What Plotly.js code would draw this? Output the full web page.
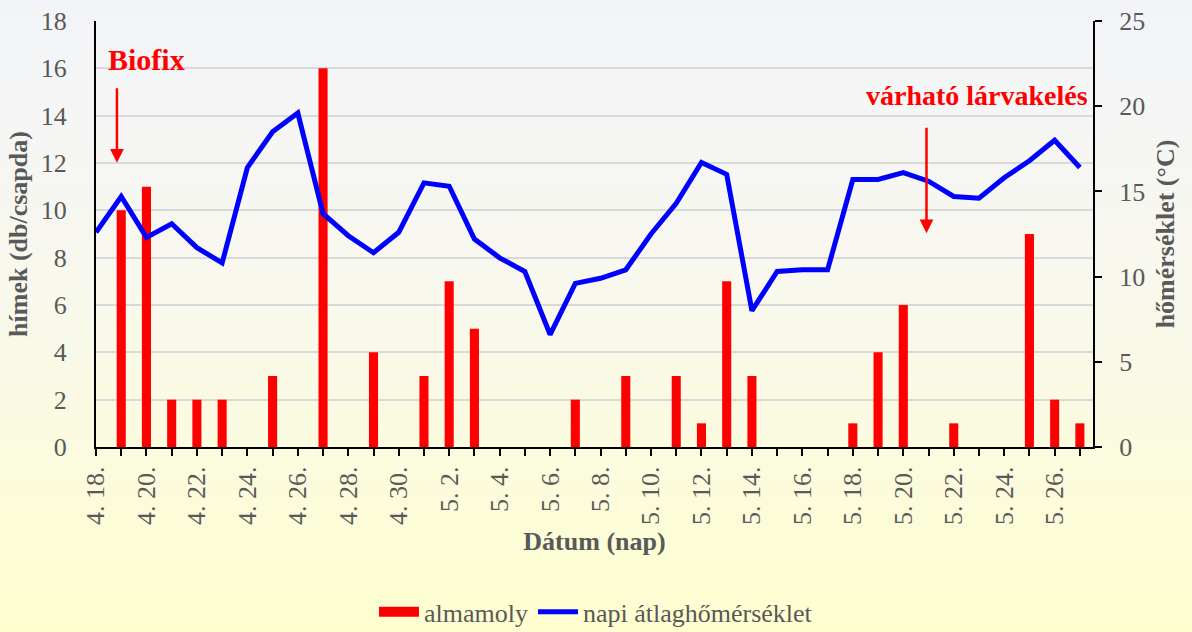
<!DOCTYPE html>
<html>
<head>
<meta charset="utf-8">
<script src="https://cdn.plot.ly/plotly-3.0.1.min.js"></script>
<style>
  html, body { margin: 0; padding: 0; }
  body { width: 1192px; height: 632px; background: linear-gradient(to bottom, #f3f4f9 0%, #f8f8ee 45%, #fefecf 100%); }
  #chart { width: 1192px; height: 632px; }
  #chart text { font-family: 'Liberation Serif', 'Times New Roman', serif !important; }
</style>
</head>
<body>
<div id="chart"></div>
<script>
// Dates (month. day.)
const dates = [
  "4. 18.","4. 19.","4. 20.","4. 21.","4. 22.","4. 23.","4. 24.","4. 25.","4. 26.","4. 27.",
  "4. 28.","4. 29.","4. 30.","5. 1.","5. 2.","5. 3.","5. 4.","5. 5.","5. 6.","5. 7.",
  "5. 8.","5. 9.","5. 10.","5. 11.","5. 12.","5. 13.","5. 14.","5. 15.","5. 16.","5. 17.",
  "5. 18.","5. 19.","5. 20.","5. 21.","5. 22.","5. 23.","5. 24.","5. 25.","5. 26.","5. 27."
];
// almamoly catches (db/csapda)
const almamoly = [
  0,10,11,2,2,2,0,3,0,16,
  0,4,0,3,7,5,0,0,0,2,
  0,3,0,3,1,7,3,0,0,0,
  1,4,6,0,1,0,0,9,2,1
];
// napi átlaghőmérséklet (°C)
const homerseklet = [
  12.6,14.7,12.3,13.1,11.7,10.8,16.4,18.5,19.6,13.7,
  12.4,11.4,12.6,15.5,15.3,12.2,11.1,10.3,6.6,9.6,
  9.9,10.4,12.5,14.3,16.7,16.0,8.0,10.3,10.4,10.4,
  15.7,15.7,16.1,15.6,14.7,14.6,15.8,16.8,18.0,16.4
];
const leftTicks = [0,2,4,6,8,10,12,14,16,18];
const rightTicks = [0,5,10,15,20,25];
const tickText = dates.map((d, i) => (i % 2 === 0 ? d : ""));

const serif = "Liberation Serif, DejaVu Serif, serif";
const gray = "#595959";

const traces = [
  {
    type: "bar",
    name: "almamoly",
    x: dates,
    y: almamoly,
    width: 0.36,
    marker: { color: "#ff0000" },
    yaxis: "y",
    showlegend: false
  },
  {
    // legend entry for the bars (wide red box)
    type: "scatter",
    mode: "lines",
    name: "almamoly",
    x: [null],
    y: [null],
    line: { color: "#ff0000", width: 17 },
    yaxis: "y",
    showlegend: true
  },
  {
    type: "scatter",
    mode: "lines",
    name: "napi átlaghőmérséklet",
    x: dates,
    y: homerseklet,
    line: { color: "#0000ff", width: 5 },
    yaxis: "y2"
  }
];

const layout = {
  width: 1192,
  height: 632,
  paper_bgcolor: "rgba(0,0,0,0)",
  plot_bgcolor: "rgba(0,0,0,0)",
  margin: { l: 96, r: 99, t: 21, b: 185 },
  font: { family: serif, color: gray, size: 26 },
  showlegend: true,
  legend: {
    orientation: "h",
    x: 0.5, xanchor: "center", xref: "container",
    y: 0.032, yanchor: "middle", yref: "container",
    font: { family: serif, size: 26, color: gray },
    bgcolor: "rgba(0,0,0,0)",
    itemwidth: 40,
    tracegroupgap: 0
  },
  xaxis: {
    type: "category",
    categoryorder: "array",
    categoryarray: dates,
    range: [0, 39.52],
    tickmode: "array",
    tickvals: dates,
    ticktext: tickText,
    tickangle: -90,
    ticks: "outside",
    ticklen: 7,
    tickwidth: 2,
    tickcolor: "#000",
    showline: true,
    linecolor: "#000",
    linewidth: 2,
    showgrid: false,
    zeroline: false,
    tickfont: { family: serif, size: 26, color: gray },
    title: { text: "<b>Dátum (nap)</b>", font: { family: serif, size: 26, color: gray }, standoff: 8 }
  },
  yaxis: {
    range: [0, 18],
    tickmode: "array",
    tickvals: leftTicks,
    showgrid: true,
    gridcolor: "#d9d9d9",
    gridwidth: 2,
    zeroline: false,
    showline: true,
    linecolor: "#000",
    linewidth: 2,
    ticks: "",
    ticklabelstandoff: 22,
    tickfont: { family: serif, size: 26, color: gray },
    title: { text: "<b>hímek (db/csapda)</b>", font: { family: serif, size: 26, color: gray }, standoff: 6 }
  },
  yaxis2: {
    overlaying: "y",
    side: "right",
    range: [0, 25],
    tickmode: "array",
    tickvals: rightTicks,
    showgrid: false,
    zeroline: false,
    showline: true,
    linecolor: "#000",
    linewidth: 2,
    ticks: "outside",
    ticklen: 7,
    tickwidth: 2,
    tickcolor: "#000",
    ticklabelstandoff: 12,
    tickfont: { family: serif, size: 26, color: gray },
    title: { text: "<b>hőmérséklet (°C)</b>", font: { family: serif, size: 26, color: gray }, standoff: 12 }
  },
  annotations: [
    {
      text: "<b>Biofix</b>",
      xref: "paper", yref: "paper",
      x: 0.01, y: 0.91, xanchor: "left", yanchor: "middle",
      showarrow: false,
      font: { family: serif, size: 30, color: "#ff0000" }
    },
    {
      text: "",
      xref: "paper", yref: "paper",
      x: 0.021, y: 0.667,
      showarrow: true, arrowhead: 2, arrowsize: 1.1, arrowwidth: 2.5, arrowcolor: "#ff0000",
      ax: 0, ay: -76
    },
    {
      text: "<b>várható lárvakelés</b>",
      xref: "paper", yref: "paper",
      x: 0.997, y: 0.826, xanchor: "right", yanchor: "middle",
      showarrow: false,
      font: { family: serif, size: 28, color: "#ff0000" }
    },
    {
      text: "",
      xref: "paper", yref: "paper",
      x: 0.833, y: 0.502,
      showarrow: true, arrowhead: 2, arrowsize: 1.1, arrowwidth: 2.5, arrowcolor: "#ff0000",
      ax: 0, ay: -107
    }
  ]
};

Plotly.newPlot("chart", traces, layout, { displayModeBar: false, staticPlot: true });
</script>
</body>
</html>
